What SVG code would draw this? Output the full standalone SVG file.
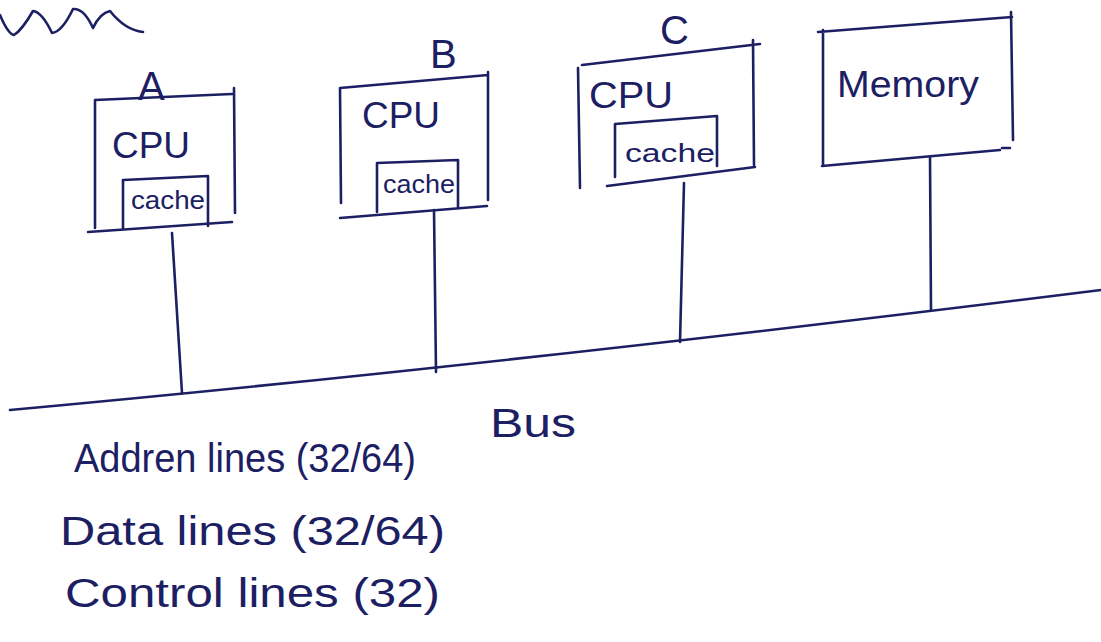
<svg xmlns="http://www.w3.org/2000/svg" width="1101" height="642" viewBox="0 0 1101 642">
<style>
.ink{fill:none;stroke:#1c2063;stroke-width:2.6;stroke-linecap:round;stroke-linejoin:round}
.t{font-family:"Liberation Sans","DejaVu Sans",sans-serif;fill:#1c2063}
.big{font-size:36px}
.leg{font-size:40px}
.lbl{font-size:40px}
.cache{font-size:25px}
</style>
<rect width="1101" height="642" fill="#ffffff"/>
<path class="ink" d="M0,15 Q8,34 14,35 Q22,30 33,11 Q42,12 52,33 Q62,32 73,9 Q84,8 93,28 Q100,13 110,11 Q125,30 143,32"/>
<g id="connectors">
<path class="ink" d="M10,410 Q500,365 1101,290"/>
<path class="ink" d="M172,233 L182,393"/>
<path class="ink" d="M434,210 L436,372"/>
<path class="ink" d="M684,183 L680,342"/>
<path class="ink" d="M930,157 L931,310"/>
</g>
<g id="cpu-a">
<text class="t lbl" x="138" y="100">A</text>
<path class="ink" d="M95,100 L232,94 M95,100 L95,228 M234,88 L235,213 M88,232 L232,222"/>
<text class="t big" x="112" y="158" textLength="78" lengthAdjust="spacingAndGlyphs">CPU</text>
<path class="ink" d="M123,180 L208,176 L208,226 M123,180 L123,229"/>
<text class="t cache" x="131" y="209" textLength="74" lengthAdjust="spacingAndGlyphs">cache</text>
</g>
<g id="cpu-b">
<text class="t lbl" x="430" y="68">B</text>
<path class="ink" d="M340,88 L488,75 M340,88 L341,203 M488,72 L488,200 M340,218 L487,206"/>
<text class="t big" x="362" y="128" textLength="78" lengthAdjust="spacingAndGlyphs">CPU</text>
<path class="ink" d="M377,163 L458,160 L458,208 M377,163 L377,212"/>
<text class="t cache" x="383" y="193" textLength="72" lengthAdjust="spacingAndGlyphs">cache</text>
</g>
<g id="cpu-c">
<text class="t lbl" x="660" y="44">C</text>
<path class="ink" d="M582,65 L760,44 M578,68 L580,188 M753,40 L754,165 M607,186 L755,167"/>
<text class="t big" x="589" y="108" textLength="84" lengthAdjust="spacingAndGlyphs">CPU</text>
<path class="ink" d="M615,124 L717,116 L717,166 M615,124 L615,177"/>
<text class="t cache" x="625" y="162" textLength="90" lengthAdjust="spacingAndGlyphs">cache</text>
</g>
<g id="memory">
<path class="ink" d="M818,32 L1012,17 M823,30 L823,165 M1011,12 L1013,140 M822,166 L1000,150 M1002,148 L1010,148"/>
<text class="t big" x="837" y="97" textLength="142" lengthAdjust="spacingAndGlyphs">Memory</text>
</g>
<g id="legend">
<text class="t leg" x="490" y="437" textLength="86" lengthAdjust="spacingAndGlyphs">Bus</text>
<text class="t leg" x="74" y="472" textLength="342" lengthAdjust="spacingAndGlyphs">Addren lines (32/64)</text>
<text class="t leg" x="60" y="545" textLength="385" lengthAdjust="spacingAndGlyphs">Data lines (32/64)</text>
<text class="t leg" x="65" y="607" textLength="375" lengthAdjust="spacingAndGlyphs">Control lines (32)</text>
</g>
</svg>
